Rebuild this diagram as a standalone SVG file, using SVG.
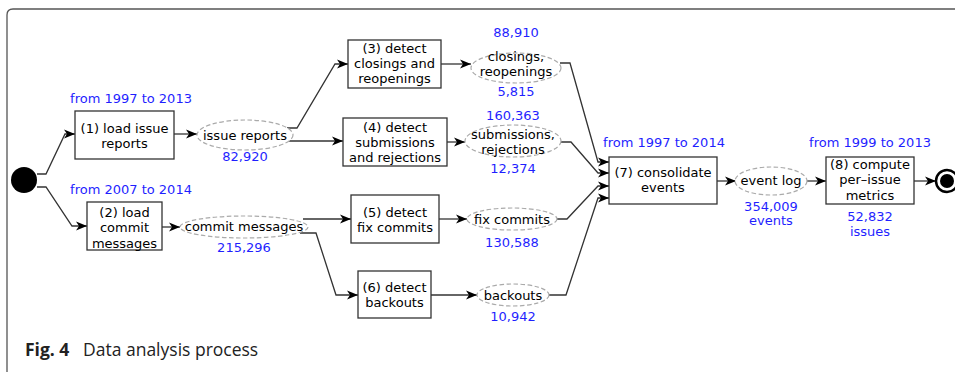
<svg xmlns="http://www.w3.org/2000/svg" width="955" height="372" viewBox="0 0 955 372">
  <style>
    .box { fill: #fff; stroke: #333; stroke-width: 1.3; }
    .data { fill: #fff; stroke: #aaa; stroke-width: 1.2; stroke-dasharray: 4.5 2.5; }
    .lbl { font-family: "DejaVu Sans", sans-serif; font-size: 13px; fill: #000; text-anchor: middle; }
    .num { font-family: "DejaVu Sans", sans-serif; font-size: 13px; fill: #1f1fff; text-anchor: middle; }
    .edge { fill: none; stroke: #333; stroke-width: 1.3; marker-end: url(#arrow); }
    .cap { font-family: "Open Sans", "Noto Sans", sans-serif; font-size: 17.5px; fill: #222; }
  </style>
  <defs>
    <marker id="arrow" markerUnits="userSpaceOnUse" markerWidth="12" markerHeight="10" refX="11" refY="5" orient="auto" viewBox="0 0 12 10">
      <path d="M0,0.5 L11,5 L0,9.5 L3,5 Z" fill="#000"/>
    </marker>
  </defs>

  <rect width="955" height="372" fill="#fff"/>
  <!-- figure frame -->
  <path d="M7,380 V15 Q7,9 13,9 H960" fill="none" stroke="#555" stroke-width="1.3"/>

  <!-- connectors -->
  <g id="connectors">
    <path class="edge" d="M37,174 H46 L65,134 H75"/>
    <path class="edge" d="M37,187 H46 L72,226 H87"/>
    <path class="edge" d="M174,134 H197"/>
    <path class="edge" d="M162,227 H180"/>
    <path class="edge" d="M287,128 H297 L335,64 H348"/>
    <path class="edge" d="M289,141 H343"/>
    <path class="edge" d="M303,219 H351"/>
    <path class="edge" d="M300,233 H316 L336,295 H358"/>
    <path class="edge" d="M441,64 H471"/>
    <path class="edge" d="M447,142 H465"/>
    <path class="edge" d="M439,219 H467"/>
    <path class="edge" d="M431,295 H477"/>
    <path class="edge" d="M560,63 H570 L598,162 H609"/>
    <path class="edge" d="M561,142 H571 L598,173 H609"/>
    <path class="edge" d="M557,219 H567 L598,186 H609"/>
    <path class="edge" d="M549,295 H566 L598,198 H609"/>
    <path class="edge" d="M717,181 H736"/>
    <path class="edge" d="M807,181 H826"/>
    <path class="edge" d="M914,181 H936"/>
  </g>

  <!-- start / end -->
  <g id="start">
    <circle cx="24" cy="180" r="13" fill="#000"/>
  </g>
  <g id="end">
    <circle cx="947" cy="181" r="11" fill="#fff" stroke="#000" stroke-width="2.5"/>
    <circle cx="947" cy="181" r="7" fill="#000"/>
  </g>

  <!-- activities -->
  <g id="load-issues">
    <text class="num" x="131" y="103">from 1997 to 2013</text>
    <rect class="box" x="75" y="111" width="99" height="48"/>
    <text class="lbl" x="124.5" y="133">(1) load issue</text>
    <text class="lbl" x="124.5" y="148">reports</text>
  </g>
  <g id="load-commits">
    <text class="num" x="131" y="194">from 2007 to 2014</text>
    <rect class="box" x="87" y="202" width="75" height="48"/>
    <text class="lbl" x="124.5" y="216.5">(2) load</text>
    <text class="lbl" x="124.5" y="232">commit</text>
    <text class="lbl" x="124.5" y="247.5">messages</text>
  </g>
  <g id="detect-closings">
    <rect class="box" x="348" y="40" width="93" height="48"/>
    <text class="lbl" x="394.5" y="53">(3) detect</text>
    <text class="lbl" x="394.5" y="68">closings and</text>
    <text class="lbl" x="394.5" y="83">reopenings</text>
  </g>
  <g id="detect-submissions">
    <rect class="box" x="343" y="118" width="104" height="48"/>
    <text class="lbl" x="395" y="132">(4) detect</text>
    <text class="lbl" x="395" y="147">submissions</text>
    <text class="lbl" x="395" y="162">and rejections</text>
  </g>
  <g id="detect-fixes">
    <rect class="box" x="351" y="195" width="88" height="48"/>
    <text class="lbl" x="395" y="217">(5) detect</text>
    <text class="lbl" x="395" y="232">fix commits</text>
  </g>
  <g id="detect-backouts">
    <rect class="box" x="358" y="271" width="73" height="47"/>
    <text class="lbl" x="394.5" y="292">(6) detect</text>
    <text class="lbl" x="394.5" y="307">backouts</text>
  </g>
  <g id="consolidate">
    <text class="num" x="664" y="147">from 1997 to 2014</text>
    <rect class="box" x="609" y="157" width="108" height="47"/>
    <text class="lbl" x="663" y="177">(7) consolidate</text>
    <text class="lbl" x="663" y="192">events</text>
  </g>
  <g id="compute-metrics">
    <text class="num" x="870" y="147">from 1999 to 2013</text>
    <rect class="box" x="826" y="157" width="88" height="47"/>
    <text class="lbl" x="870" y="169">(8) compute</text>
    <text class="lbl" x="870" y="184">per–issue</text>
    <text class="lbl" x="870" y="200">metrics</text>
    <text class="num" x="870" y="221">52,832</text>
    <text class="num" x="870" y="236">issues</text>
  </g>

  <!-- data objects -->
  <g id="issue-reports">
    <ellipse class="data" cx="245" cy="135" rx="48" ry="15"/>
    <text class="lbl" x="245" y="140">issue reports</text>
    <text class="num" x="245" y="161">82,920</text>
  </g>
  <g id="commit-messages">
    <ellipse class="data" cx="244" cy="227" rx="64" ry="11"/>
    <text class="lbl" x="244" y="231">commit messages</text>
    <text class="num" x="244" y="252">215,296</text>
  </g>
  <g id="closings-reopenings">
    <text class="num" x="516" y="37">88,910</text>
    <ellipse class="data" cx="516" cy="68" rx="45" ry="15"/>
    <text class="lbl" x="516" y="61">closings,</text>
    <text class="lbl" x="516" y="76">reopenings</text>
    <text class="num" x="516" y="96">5,815</text>
  </g>
  <g id="submissions-rejections">
    <text class="num" x="513" y="120">160,363</text>
    <ellipse class="data" cx="513" cy="141" rx="48" ry="16"/>
    <text class="lbl" x="513" y="139">submissions,</text>
    <text class="lbl" x="513" y="154">rejections</text>
    <text class="num" x="513" y="173">12,374</text>
  </g>
  <g id="fix-commits">
    <ellipse class="data" cx="512" cy="219" rx="45" ry="11"/>
    <text class="lbl" x="512" y="224">fix commits</text>
    <text class="num" x="512" y="247">130,588</text>
  </g>
  <g id="backouts">
    <ellipse class="data" cx="513" cy="295" rx="36" ry="11"/>
    <text class="lbl" x="513" y="300">backouts</text>
    <text class="num" x="513" y="321">10,942</text>
  </g>
  <g id="event-log">
    <ellipse class="data" cx="771" cy="181" rx="36" ry="14"/>
    <text class="lbl" x="771" y="185">event log</text>
    <text class="num" x="771" y="211">354,009</text>
    <text class="num" x="771" y="225">events</text>
  </g>

  <!-- caption -->
  <text class="cap" x="25" y="356"><tspan font-weight="bold">Fig. 4</tspan><tspan x="83">Data analysis process</tspan></text>
</svg>
